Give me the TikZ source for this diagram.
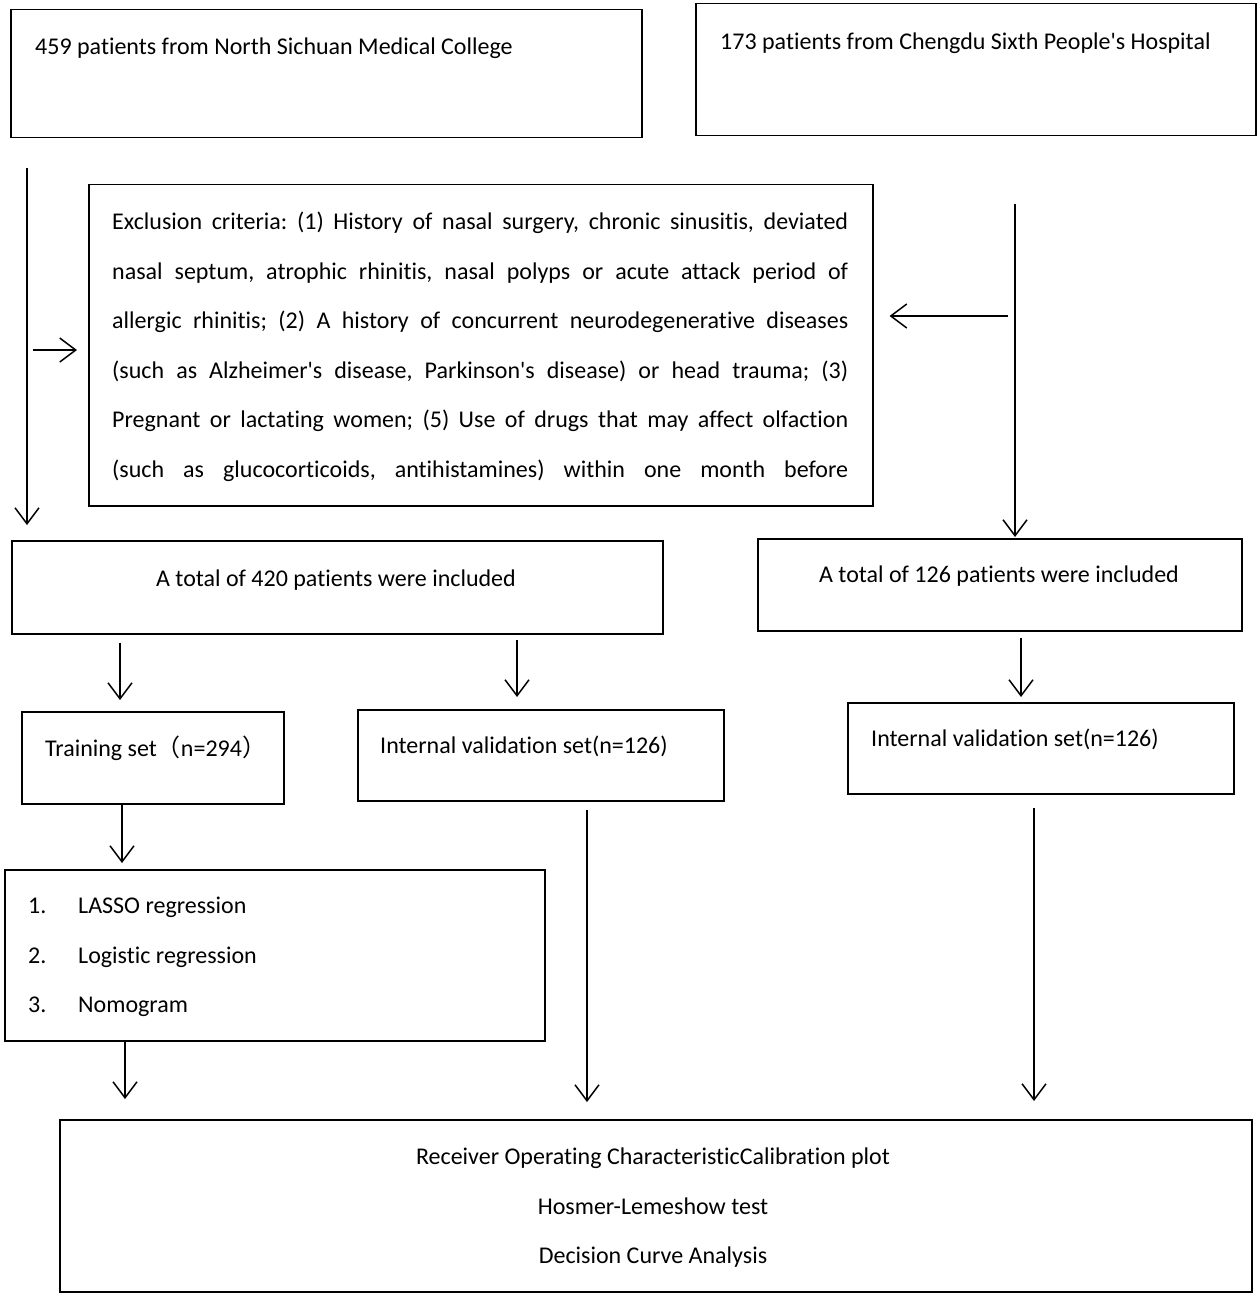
\documentclass[tikz,border=0pt]{standalone}
\usepackage{fontspec}
\setmainfont{Carlito}[Ligatures={TeXOff,NoCommon}]
\newfontfamily\cjk{Noto Sans CJK SC}
\usetikzlibrary{arrows.meta}

\newcommand\jline[1]{\makebox[736pt][s]{\spaceskip=0.25em plus 1fil\relax #1}}

\tikzset{
  box/.style={draw, line width=1.5pt, anchor=north west, inner sep=0pt},
  txt/.style={inner sep=0pt, font=\fontsize{24}{49.5}\selectfont\frenchspacing},
  arr/.style={line width=1.5pt, -{Straight Barb[length=16pt,width=24pt,line width=1.5pt]}}
}

\begin{document}
\begin{tikzpicture}[x=1pt,y=-1pt]
  \useasboundingbox (0,0) rectangle (1259,1297);
  % boxes
  \node[box, minimum width=631, minimum height=128] (nsmc) at (10,9) {};
  \node[box, minimum width=560, minimum height=132] (cd) at (695,3) {};
  \node[box, minimum width=784, minimum height=321] (excl) at (88,184) {};
  \node[box, minimum width=651, minimum height=93] (total420) at (11,540) {};
  \node[box, minimum width=484, minimum height=92] (total126) at (757,538) {};
  \node[box, minimum width=262, minimum height=92] (train) at (21,711) {};
  \node[box, minimum width=366, minimum height=91] (intval) at (357,709) {};
  \node[box, minimum width=386, minimum height=91] (extval) at (847,702) {};
  \node[box, minimum width=540, minimum height=171] (methods) at (4,869) {};
  \node[box, minimum width=1192, minimum height=172] (evalbox) at (59,1119) {};
  % texts
  \node[txt, anchor=base west] (nsmcT) at (35,55) {459 patients from North Sichuan Medical College};
  \node[txt, anchor=base west] (cdT) at (720,50) {173 patients from Chengdu Sixth People's Hospital};
  \node[txt, anchor=north west, text width=736pt, align=left] (exclT) at (112,212) {%
    \jline{Exclusion criteria: (1) History of nasal surgery, chronic sinusitis, deviated}\\
    \jline{nasal septum, atrophic rhinitis, nasal polyps or acute attack period of}\\
    \jline{allergic rhinitis; (2) A history of concurrent neurodegenerative diseases}\\
    \jline{(such as Alzheimer's disease, Parkinson's disease) or head trauma; (3)}\\
    \jline{Pregnant or lactating women; (5) Use of drugs that may affect olfaction}\\
    \jline{(such as glucocorticoids, antihistamines) within one month before}};
  \node[txt, anchor=base] (total420T) at (336,586) {A total of 420 patients were included};
  \node[txt, anchor=base] (total126T) at (999,582) {A total of 126 patients were included};
  \node[txt, anchor=base west] (trainT) at (45,756) {Training set{\cjk （}n=294{\cjk ）}};
  \node[txt, anchor=base west] (intvalT) at (380,753) {Internal validation set(n=126)};
  \node[txt, anchor=base west] (extvalT) at (871,746) {Internal validation set(n=126)};
  \node[txt, anchor=north west, align=left] (methodsT) at (28,897) {%
    \makebox[50pt][l]{1.}LASSO regression\\
    \makebox[50pt][l]{2.}Logistic regression\\
    \makebox[50pt][l]{3.}Nomogram};
  \node[txt, anchor=north, align=center] (evalT) at (653,1148) {%
    Receiver Operating CharacteristicCalibration plot\\
    Hosmer-Lemeshow test\\
    Decision Curve Analysis};
  % arrows
  \coordinate (l1) at (27,0);
  \coordinate (r1) at (1015,0);
  \coordinate (exin) at (33,350);
  \coordinate (exout) at (1008,316);
  \coordinate (a1) at (120,0);
  \coordinate (a2) at (517,0);
  \coordinate (a3) at (1021,0);
  \coordinate (a4) at (122,0);
  \coordinate (a5) at (587,0);
  \coordinate (a6) at (125,0);
  \coordinate (a7) at (1034,0);
  \draw[arr, shorten <=30pt, shorten >=15pt] (l1 |- nsmc.south) -- (l1 |- total420.north);
  \draw[arr, shorten >=11pt] (exin) -- (exin -| excl.west);
  \draw[arr, shorten <=68pt, shorten >=1pt] (r1 |- cd.south) -- (r1 |- total126.north);
  \draw[arr, shorten >=16pt] (exout) -- (exout -| excl.east);
  \draw[arr, shorten <=8pt, shorten >=11pt] (a1 |- total420.south) -- (a1 |- train.north);
  \draw[arr, shorten <=5pt, shorten >=12pt] (a2 |- total420.south) -- (a2 |- intval.north);
  \draw[arr, shorten <=6pt, shorten >=5pt] (a3 |- total126.south) -- (a3 |- extval.north);
  \draw[arr, shorten >=6pt] (a4 |- train.south) -- (a4 |- methods.north);
  \draw[arr, shorten <=8pt, shorten >=17pt] (a5 |- intval.south) -- (a5 |- evalbox.north);
  \draw[arr, shorten >=20pt] (a6 |- methods.south) -- (a6 |- evalbox.north);
  \draw[arr, shorten <=13pt, shorten >=18pt] (a7 |- extval.south) -- (a7 |- evalbox.north);
\end{tikzpicture}
\end{document}
